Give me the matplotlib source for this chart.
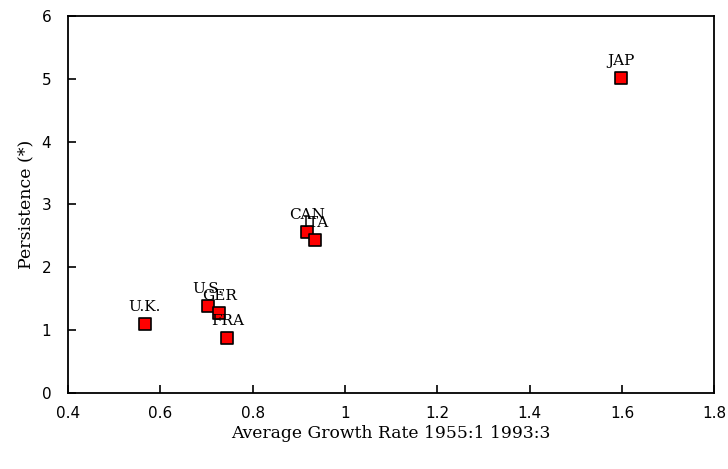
import matplotlib

matplotlib.use("Agg")
import matplotlib.pyplot as plt

# values
countries = ["U.K.", "U.S.", "GER", "FRA", "CAN", "ITA", "JAP"]
growth = [0.566, 0.703, 0.728, 0.745, 0.918, 0.935, 1.598]
persistence = [1.10, 1.39, 1.28, 0.88, 2.57, 2.44, 5.02]

SERIF = ["DejaVu Serif"]
SANS = ["DejaVu Sans"]

fig = plt.figure(figsize=(7.28, 4.69), dpi=100)
ax = fig.add_axes([0.0934, 0.162, 0.888, 0.804])

ax.scatter(growth, persistence, marker="s", s=80, color="#ff0000",
           edgecolor="black", linewidth=1.2, zorder=3)
for name, x, y in zip(countries, growth, persistence):
    ax.annotate(name, (x, y), xytext=(0, 7), textcoords="offset points",
                ha="center", va="bottom", fontsize=11, family=SERIF)

ax.set_xlim(0.4, 1.8)
ax.set_ylim(0, 6)
ax.set_xticks([0.4, 0.6, 0.8, 1.0, 1.2, 1.4, 1.6, 1.8])
ax.set_xticklabels(["0.4", "0.6", "0.8", "1", "1.2", "1.4", "1.6", "1.8"])
ax.set_yticks(range(7))
ax.tick_params(direction="in", length=6, width=1.2, labelsize=11)
ax.tick_params(axis="y", pad=12)
ax.tick_params(axis="x", pad=9)
for lab in ax.get_xticklabels() + ax.get_yticklabels():
    lab.set_family(SANS)
for sp in ax.spines.values():
    sp.set_linewidth(1.3)

ax.set_xlabel("Average Growth Rate 1955:1 1993:3", fontsize=12.3,
              family=SERIF, labelpad=3)
ax.set_ylabel("Persistence (*)", fontsize=12.5, family=SERIF, labelpad=5)

fig.savefig("out.png", dpi=100)
